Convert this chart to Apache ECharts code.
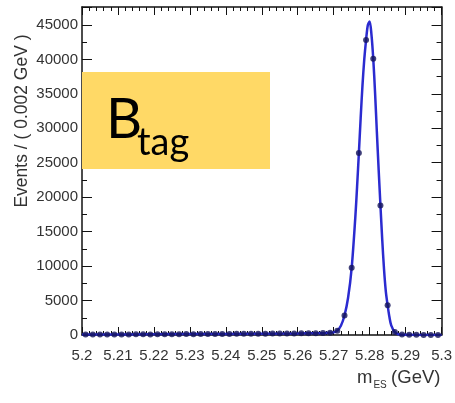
<!DOCTYPE html>
<html>
<head>
<meta charset="utf-8">
<script src="https://cdn.jsdelivr.net/npm/echarts@6/dist/echarts.min.js"></script>
<style>
  html, body { margin: 0; padding: 0; background: #fff; }
  #charts { width: 455px; height: 403px; }
</style>
</head>
<body>
<div id="charts"></div>
<script>
// bin centres (GeV) and events per bin
var massBins = [
    5.201, 5.203, 5.205, 5.207, 5.209, 5.211, 5.213, 5.215, 5.217, 5.219,
    5.221, 5.223, 5.225, 5.227, 5.229, 5.231, 5.233, 5.235, 5.237, 5.239,
    5.241, 5.243, 5.245, 5.247, 5.249, 5.251, 5.253, 5.255, 5.257, 5.259,
    5.261, 5.263, 5.265, 5.267, 5.269, 5.271, 5.273, 5.275, 5.277, 5.279,
    5.281, 5.283, 5.285, 5.287, 5.289, 5.291, 5.293, 5.295, 5.297, 5.299
];
var events = [
    60, 70, 65, 80, 75, 85, 90, 95, 100, 90,
    110, 105, 120, 115, 130, 125, 140, 135, 150, 145,
    160, 170, 165, 180, 190, 185, 200, 210, 220, 230,
    240, 250, 260, 280, 320, 600, 2830, 9750, 26400, 42800,
    40100, 18800, 4300, 450, 60, 30, 20, 15, 10, 5
];

// fitted curve
var fitMass = [
    5.200, 5.220, 5.240, 5.260, 5.266, 5.268, 5.270, 5.271, 5.272, 5.273,
    5.274, 5.275, 5.276, 5.2765, 5.277, 5.2775, 5.278, 5.2785, 5.279, 5.2795,
    5.280, 5.2805, 5.281, 5.2815, 5.282, 5.2825, 5.283, 5.2835, 5.284, 5.2845,
    5.285, 5.2855, 5.286, 5.287, 5.288, 5.290, 5.300
];
var fitEvents = [
    60, 110, 160, 220, 260, 300, 380, 650, 1350, 2830,
    5400, 9750, 17000, 21500, 26400, 31500, 36200, 40000, 42800, 45000,
    45500, 43600, 40100, 35200, 29500, 24000, 18800, 13800, 9500, 6300,
    4300, 2600, 1400, 420, 120, 30, 5
];

var xTickLabels = ['5.2', '5.21', '5.22', '5.23', '5.24', '5.25', '5.26', '5.27', '5.28', '5.29', '5.3'];
var yTickLabels = ['0', '5000', '10000', '15000', '20000', '25000', '30000', '35000', '40000', '45000'];

var myChart = echarts.init(document.getElementById('charts'));

var fitData = fitMass.map(function (m, i) { return [m, fitEvents[i]]; });
var pointData = massBins.map(function (m, i) { return [m, events[i]]; });

var frameLine = { show: true, onZero: false, lineStyle: { color: '#111', width: 1.5 } };
var labelFont = { fontFamily: 'Liberation Sans', fontSize: 15, color: '#333' };

option = {
    animation: false,
    grid: { left: 82, right: 9, top: 7, bottom: 68 },
    xAxis: [
        {
            type: 'value',
            min: 5.2,
            max: 5.3,
            interval: 0.01,
            axisLine: frameLine,
            axisTick: { show: true, inside: true, length: 8, lineStyle: { color: '#111' } },
            minorTick: { show: true, splitNumber: 5, length: 4, lineStyle: { color: '#111' } },
            splitLine: { show: false },
            axisLabel: Object.assign({
                margin: 13,
                formatter: function (v) {
                    return xTickLabels[Math.round((v - 5.2) / 0.01)];
                }
            }, labelFont)
        },
        {
            type: 'value',
            position: 'top',
            min: 5.2,
            max: 5.3,
            interval: 0.01,
            axisLine: frameLine,
            axisTick: { show: true, inside: true, length: 8, lineStyle: { color: '#111' } },
            minorTick: { show: true, splitNumber: 5, length: 4, lineStyle: { color: '#111' } },
            splitLine: { show: false },
            axisLabel: { show: false }
        }
    ],
    yAxis: [
        {
            type: 'value',
            min: 0,
            max: 47600,
            interval: 5000,
            axisLine: frameLine,
            axisTick: { show: true, inside: true, length: 10, lineStyle: { color: '#111' } },
            minorTick: { show: true, splitNumber: 2, length: 5, lineStyle: { color: '#111' } },
            splitLine: { show: false },
            axisLabel: Object.assign({
                margin: 4,
                showMaxLabel: false,
                formatter: function (v) {
                    return yTickLabels[Math.round(v / 5000)] || '';
                }
            }, labelFont)
        },
        {
            type: 'value',
            position: 'right',
            min: 0,
            max: 47600,
            interval: 5000,
            axisLine: frameLine,
            axisTick: { show: true, inside: true, length: 10, lineStyle: { color: '#111' } },
            minorTick: { show: true, splitNumber: 2, length: 5, lineStyle: { color: '#111' } },
            splitLine: { show: false },
            axisLabel: { show: false }
        }
    ],
    series: [
        {
            type: 'line',
            data: fitData,
            smooth: 0.3,
            showSymbol: false,
            lineStyle: { color: '#2b2bd0', width: 2.5 },
            z: 2
        },
        {
            type: 'scatter',
            data: pointData,
            symbol: 'circle',
            symbolSize: 6,
            itemStyle: { color: '#14145a' },
            z: 3
        }
    ],
    graphic: [
        {
            type: 'text',
            x: 22,
            y: 121,
            rotation: Math.PI / 2,
            style: {
                text: 'Events / ( 0.002 GeV )',
                font: '17.5px "Liberation Sans"',
                fill: '#333',
                align: 'center',
                verticalAlign: 'middle'
            }
        },
        {
            type: 'text',
            x: 357,
            y: 378,
            style: {
                text: '{m|m}{s|ES} {m|(GeV)}',
                fill: '#333',
                verticalAlign: 'middle',
                rich: {
                    m: { fontFamily: 'Liberation Sans', fontSize: 18.5, fill: '#333', verticalAlign: 'bottom' },
                    s: { fontFamily: 'Liberation Sans', fontSize: 10, fill: '#333', verticalAlign: 'bottom', padding: [0, 1, -3, 1] }
                }
            }
        },
        {
            type: 'rect',
            shape: { x: 82, y: 72, width: 188, height: 97 },
            style: { fill: '#FFD966' },
            z: 10
        },
        {
            type: 'text',
            x: 106,
            y: 120,
            z: 11,
            style: {
                text: 'B',
                font: '56px Lato',
                fill: '#000',
                verticalAlign: 'middle'
            }
        },
        {
            type: 'text',
            x: 137,
            y: 143,
            z: 11,
            style: {
                text: 'tag',
                font: '38px Lato',
                fill: '#000',
                verticalAlign: 'middle'
            }
        }
    ]
};
myChart.setOption(option);
</script>
</body>
</html>
